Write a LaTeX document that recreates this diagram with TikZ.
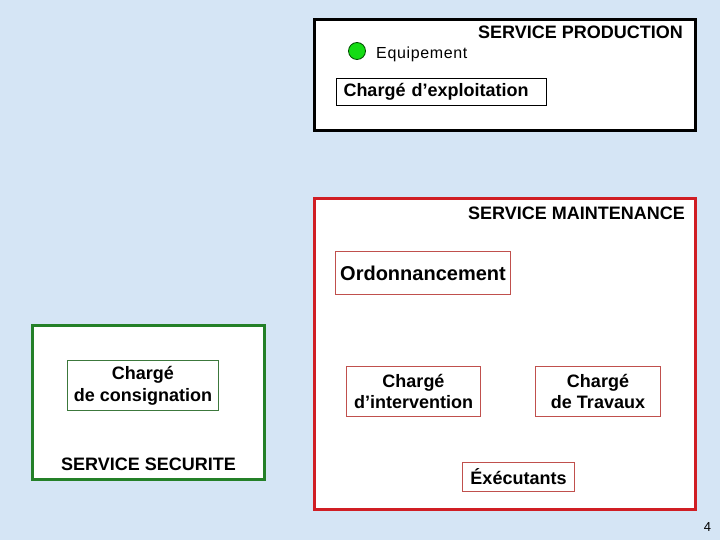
\documentclass[tikz,border=0pt]{standalone}
\usepackage{fontspec}
\setmainfont{Liberation Sans}
\definecolor{bgblue}{RGB}{213,229,245}
\definecolor{mred}{RGB}{208,30,36}
\definecolor{tred}{RGB}{192,80,77}
\definecolor{mgreen}{RGB}{36,128,40}
\definecolor{tgreen}{RGB}{60,120,60}
\definecolor{dotgreen}{RGB}{20,220,20}
\begin{document}
\begin{tikzpicture}[x=1pt,y=-1pt,
  group/.style={draw, line width=3pt, fill=white, anchor=north west, inner sep=0pt, outer sep=0pt},
  role/.style={draw, line width=0.9pt, fill=white, align=center, inner sep=0pt, outer sep=0pt,
    font=\bfseries\fontsize{18}{22}\selectfont},
  lbl/.style={inner sep=0pt, font=\bfseries\fontsize{18}{22}\selectfont}]
\fill[bgblue] (0,0) rectangle (720,540);
\useasboundingbox (0,0) rectangle (720,540);

% groups
\node[group, minimum width=381pt, minimum height=111pt] (prod) at (314.5,19.5) {};
\node[group, draw=mred, minimum width=381pt, minimum height=311pt] (maint) at (314.5,198.5) {};
\node[group, draw=mgreen, minimum width=232pt, minimum height=154pt] (secu) at (32.5,325.5) {};

% labels
\node[lbl, anchor=east] (lprod) at (683,32) {SERVICE PRODUCTION};
\node[lbl, anchor=east] (lmaint) at (685,213) {SERVICE MAINTENANCE};
\node[lbl] (lsecu) at (148.5,464) {SERVICE SECURITE};

% equipment
\node[circle, draw=black!70!green, line width=0.8pt, fill=dotgreen, minimum size=17pt, inner sep=0pt] (dot) at (357,51) {};
\node[inner sep=0pt, anchor=base west, font=\fontsize{16}{19}\selectfont\addfontfeature{LetterSpace=4}] (equip) at (376,58.5) {Equipement};

% roles
\node[role, anchor=north west, minimum height=27pt, text width=196pt, align=left, inner xsep=7pt] (explo) at (336.5,78.5) {Chargé d’exploitation};
\node[role, draw=tred, minimum width=175pt, minimum height=43pt, font=\bfseries\fontsize{20}{24}\selectfont] (ordo) at (423,273) {Ordonnancement};
\node[role, draw=tgreen, minimum width=151pt, minimum height=50pt] (consi) at (143,385.5) {Chargé\\de consignation};
\node[role, draw=tred, minimum width=134pt, minimum height=50pt, font=\bfseries\fontsize{18}{21}\selectfont] (interv) at (413.5,391.5) {Chargé\\d’intervention};
\node[role, draw=tred, minimum width=125pt, minimum height=50pt, font=\bfseries\fontsize{18}{21}\selectfont] (trav) at (598,391.5) {Chargé\\de Travaux};
\node[role, draw=tred, minimum width=112pt, minimum height=29pt] (exec) at (518.5,477) {Éxécutants};

% page number
\node[inner sep=0pt, font=\fontsize{13}{15}\selectfont] (page) at (707.5,527.5) {4};
\end{tikzpicture}
\end{document}
